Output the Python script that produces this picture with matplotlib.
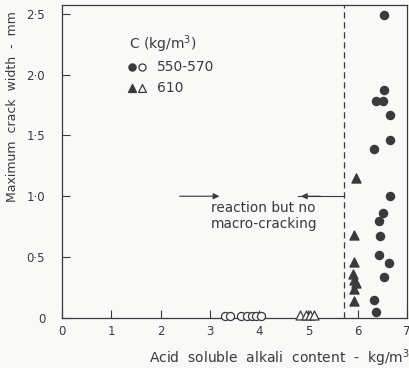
import matplotlib.pyplot as plt

# Data
# cement content 550-570 kg/m3, cracked (filled) and uncracked (open)
circ_x = [6.53, 6.53, 6.37, 6.51, 6.65, 6.66, 6.32, 6.65, 6.51, 6.43, 6.44, 6.43, 6.64, 6.53, 6.32, 6.36]
circ_y = [2.49, 1.87, 1.78, 1.78, 1.67, 1.46, 1.39, 1.00, 0.86, 0.80, 0.67, 0.52, 0.45, 0.34, 0.145, 0.05]
open_circ_x = [3.31, 3.41, 3.64, 3.76, 3.85, 3.93, 4.04]
open_circ_y = [0.02, 0.02, 0.02, 0.02, 0.02, 0.02, 0.02]

# cement content 610 kg/m3
tri_x = [5.96, 5.93, 5.92, 5.90, 5.93, 5.97, 5.92, 5.92]
tri_y = [1.15, 0.68, 0.46, 0.36, 0.31, 0.29, 0.24, 0.14]
open_tri_x = [4.83, 4.95, 5.03, 5.11]
open_tri_y = [0.025, 0.025, 0.025, 0.025]

x_ticks = [0, 1, 2, 3, 4, 5, 6, 7]
y_ticks = [0, 0.5, 1.0, 1.5, 2.0, 2.5]
y_tick_labels = ['0', '0·5', '1·0', '1·5', '2·0', '2·5']

threshold = 5.72
ink = '#3a3a3a'
paper = '#f9f9f7'

plt.rcParams['font.family'] = 'DejaVu Sans'

fig = plt.figure(figsize=(4.1, 3.68), dpi=100, facecolor=paper)
ax = fig.add_axes([0.151, 0.136, 0.842, 0.850], facecolor=paper)

ax.scatter(circ_x, circ_y, s=34, marker='o', color=ink, zorder=3, clip_on=False)
ax.scatter(open_circ_x, open_circ_y, s=34, marker='o', facecolors=paper,
           edgecolors=ink, linewidths=0.9, zorder=3, clip_on=False)
ax.scatter(tri_x, tri_y, s=42, marker='^', color=ink, zorder=3, clip_on=False)
ax.scatter(open_tri_x, open_tri_y, s=42, marker='^', facecolors=paper,
           edgecolors=ink, linewidths=0.9, zorder=3, clip_on=False)

# threshold line and arrows
ax.plot([threshold, threshold], [0, 2.57], ls=(0, (5, 3)), color=ink, lw=0.9)
ax.plot([4.79, threshold], [1.0, 1.0], color=ink, lw=0.8)
ax.annotate('', xy=(4.79, 1.0), xytext=(5.3, 1.0),
            arrowprops=dict(arrowstyle='-|>', color=ink, lw=0.8, mutation_scale=9))
ax.annotate('', xy=(3.25, 1.0), xytext=(2.33, 1.0),
            arrowprops=dict(arrowstyle='-|>', color=ink, lw=0.8, mutation_scale=9))
ax.text(3.02, 0.84, 'reaction but no\nmacro-cracking', fontsize=9.8, color=ink,
        va='center', ha='left', linespacing=1.2)

# legend drawn as text
ax.text(1.36, 2.25, 'C (kg/m$^3$)', fontsize=10, color=ink, va='center')
ax.scatter([1.42], [2.06], s=26, marker='o', color=ink, clip_on=False)
ax.scatter([1.62], [2.06], s=26, marker='o', facecolors=paper, edgecolors=ink, linewidths=0.9)
ax.text(1.92, 2.06, '550-570', fontsize=10, color=ink, va='center')
ax.scatter([1.42], [1.89], s=32, marker='^', color=ink)
ax.scatter([1.62], [1.89], s=32, marker='^', facecolors=paper, edgecolors=ink, linewidths=0.9)
ax.text(1.92, 1.89, '610', fontsize=10, color=ink, va='center')

ax.set_xlim(0, 7)
ax.set_ylim(0, 2.57)
ax.set_xticks(x_ticks)
ax.set_yticks(y_ticks)
ax.set_yticklabels(y_tick_labels)
ax.tick_params(direction='in', length=6, width=0.8, colors=ink, labelsize=8.5, pad=5)
ax.tick_params(axis='y', pad=12)
for s in ax.spines.values():
    s.set_color(ink)
    s.set_linewidth(0.9)

fig.text(0.03, 0.71, 'Maximum  crack  width  -  mm', rotation=90, fontsize=9,
         color=ink, ha='center', va='center')
fig.text(1.0, 0.027, 'Acid  soluble  alkali  content  -  kg/m$^3$', fontsize=10,
         color=ink, ha='right', va='center')

fig.savefig('out.png', dpi=100, facecolor=paper)
